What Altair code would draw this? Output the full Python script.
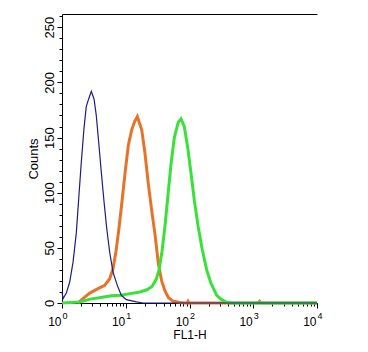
import altair as alt
import pandas as pd

# ---- data ----
blue_x = [1.00, 1.04, 1.17, 1.32, 1.49, 1.68, 1.83, 2.01, 2.21, 2.40, 2.62, 2.88, 3.18, 3.45,
          3.76, 4.13, 4.56, 5.02, 5.60, 6.31, 7.37, 8.51, 10.2, 14.8, 18.6, 10000]
blue_y = [10, 4, 9, 19, 37, 64, 95, 128, 158, 178, 185, 192, 185, 170,
          146, 119, 92, 68, 46, 28, 16, 7, 3, 1, 0, 0]

orange_x = [1.78, 2.13, 2.72, 3.67, 4.68, 5.60, 6.31, 7.03, 7.84, 8.73, 9.72, 10.97, 12.4, 13.7,
            15.2, 17.8, 20.0, 22.6, 25.5, 28.8, 32.4, 36.6, 41.3, 46.5, 55.7, 71, 85, 92, 95, 98,
            1200, 1260, 1320, 10000]
orange_y = [0, 4, 9, 13, 16, 22, 31, 47, 68, 92, 117, 143, 157, 164,
            169, 157, 136, 108, 84, 62, 36, 20, 11, 5, 1.5, 0.5, 0, 0, 1.5, 0,
            0, 1.5, 0, 0]

green_x = [1.0, 1.92, 2.75, 4.09, 5.87, 8.42, 11.7, 16.7, 21.5, 25.8, 29.8, 33.3, 37.1, 41.3,
           46.0, 51.3, 57.8, 66.7, 73.6, 82.8, 93.7, 106, 119, 137, 159, 186, 217, 267, 320,
           383, 459, 10000]
green_y = [0, 1, 3.5, 5, 6.5, 7, 8.5, 10, 12, 15, 21, 30, 47, 70,
           98, 126, 150, 164, 167, 160, 141, 117, 93, 69, 48, 30, 18, 7, 3,
           0.6, 0, 0]

decades = [1, 10, 100, 1000, 10000]
minor_x = [m * 10 ** k for k in range(4) for m in range(2, 10)]
major_y = [0, 50, 100, 150, 200, 250]
minor_y = [v for v in range(0, 261, 10) if v % 50]

BLUE = "#1c1c84"
ORANGE = "#e5742a"
GREEN = "#38e238"
FONT = "Liberation Sans"

df = pd.concat([
    pd.DataFrame({"fl": blue_x, "count": blue_y, "s": "blue"}),
    pd.DataFrame({"fl": orange_x, "count": orange_y, "s": "orange"}),
    pd.DataFrame({"fl": green_x, "count": green_y, "s": "green"}),
], ignore_index=True)

xs = alt.Scale(type="log", domain=[1, 10000], nice=False)
ys = alt.Scale(domain=[0, 262], nice=False, zero=True)

common = dict(grid=False, domainColor="black", tickColor="black", labelColor="black",
              titleColor="black", labelFont=FONT, titleFont=FONT, titleFontWeight="normal",
              labelFlush=False, labelOverlap=False)

base = alt.Chart(df)

orange = base.transform_filter(alt.datum.s == "orange").mark_line(
    color=ORANGE, strokeWidth=3).encode(
    x=alt.X("fl:Q", scale=xs, axis=alt.Axis(
        orient="bottom", values=decades, labelExpr="'10'", labelAlign="right", labelOffset=-1,
        labelFontSize=12, labelPadding=8, tickSize=5, title="FL1-H", titleFontSize=12,
        titlePadding=2, **common)),
    y=alt.Y("count:Q", scale=ys, axis=alt.Axis(
        orient="left", values=major_y, labelAngle=270, labelAlign="center",
        labelBaseline="alphabetic", labelPadding=4, tickSize=5, labelFontSize=13,
        title="Counts", titleFontSize=13, titlePadding=3, **common)),
)

green = base.transform_filter(alt.datum.s == "green").mark_line(
    color=GREEN, strokeWidth=3).encode(
    x=alt.X("fl:Q", scale=xs, axis=alt.Axis(
        orient="bottom", values=minor_x, labels=False, domain=False, tickSize=3,
        title=None, **common)),
    y=alt.Y("count:Q", scale=ys, axis=alt.Axis(
        orient="left", values=minor_y, labels=False, domain=False, tickSize=3,
        title=None, **common)),
)

blue = base.transform_filter(alt.datum.s == "blue").mark_line(
    color=BLUE, strokeWidth=1.2).encode(
    x=alt.X("fl:Q", scale=xs, axis=alt.Axis(
        orient="bottom", values=decades, labelExpr="'' + round(log(datum.value) / LN10)",
        labelAlign="left", labelOffset=0, labelFontSize=9, labelPadding=8, ticks=False,
        tickSize=0, domain=False, title=None, **common)),
    y=alt.Y("count:Q", scale=ys, axis=None),
)

top = base.mark_line(strokeOpacity=0).encode(
    x=alt.X("fl:Q", scale=xs, axis=alt.Axis(
        orient="top", values=decades, labels=False, ticks=False, domain=True,
        title=None, **common)),
    y=alt.Y("count:Q", scale=ys, axis=None),
    detail="s:N",
)

chart = alt.layer(orange, green, blue, top).resolve_axis(
    x="independent", y="independent"
).properties(
    width=255, height=289,
    padding={"left": 62, "top": 14, "right": 51, "bottom": 49},
    autosize=alt.AutoSizeParams(type="none"),
    background="white",
).configure_view(stroke=None)

chart.save("out.html", embed_options={"renderer": "svg", "actions": False})
